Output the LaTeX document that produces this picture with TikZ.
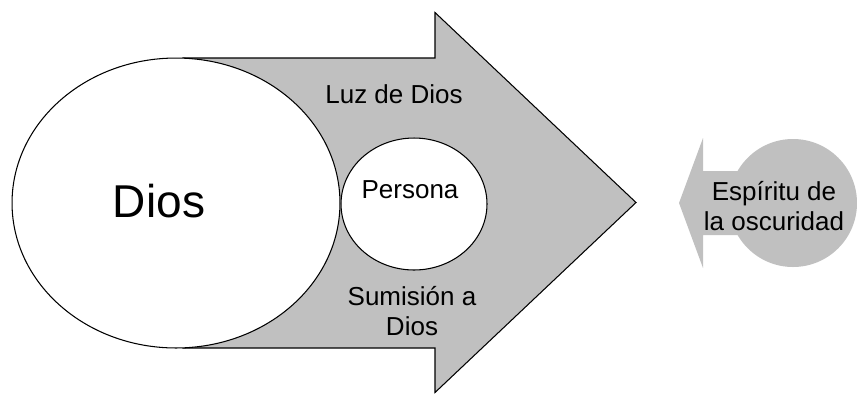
\documentclass[tikz,border=0pt]{standalone}
\usepackage{fontspec}
\setmainfont{Liberation Sans}
\usepackage{xcolor}
\usepackage{tikz}
\usetikzlibrary{calc}
\usetikzlibrary{positioning}
\usetikzlibrary{shapes.geometric}
\definecolor{arrowgray}{RGB}{192,192,192}

\begin{document}
\begin{tikzpicture}[x=0.02cm, y=-0.02cm]

                \def\lw{0.6pt}

                % Styles for the shapes and the texts
                \tikzset{
                    bigarrow/.style={fill=arrowgray, draw=black, line width=\lw, line join=miter},
                    smallarrow/.style={fill=arrowgray, draw=none},
                    oval/.style={ellipse, fill=white, draw=black, line width=\lw, inner sep=0pt},
                    txt/.style={align=center, inner sep=0pt, font=\fontsize{14.8}{16.6}\selectfont},
                    bigtxt/.style={inner sep=0pt, font=\fontsize{26.2}{30}\selectfont}
                }

                \useasboundingbox (0, 0) rectangle (857, 393);

                % The large arrow going to the right
                \draw[bigarrow] (183, 58) -- (435, 58) -- (435, 12.5)
                    -- (636, 202.5) -- (435, 392.5) -- (435, 348)
                    -- (183, 348) -- cycle;

                \begin{scope}
                    \node[oval, minimum width=6.56cm, minimum height=5.8cm]
                        (god) at (176, 203) {};
                    \node[oval, minimum width=2.92cm, minimum height=2.64cm]
                        (person) at (414, 204) {};
                \end{scope}

                % The small arrow coming from the right
                \begin{scope}
                    \fill[smallarrow] (793, 203) circle (64);
                    \fill[smallarrow] (679, 203) -- (703, 138) -- (703, 171)
                        -- (793, 171) -- (793, 235) -- (703, 235)
                        -- (703, 268) -- cycle;
                \end{scope}

                \begin{scope}
                    \node[bigtxt] (godtxt) at (159, 201) {Dios};
                    \node[txt] (persontxt) at (410, 190) {Persona};
                    \node[txt] (light) at (394, 94) {Luz de Dios};
                    \node[txt] (submission) at (412, 311) {Sumisión a\\Dios};
                    \node[txt] (dark) at (774, 206) {Espíritu de\\la oscuridad};
                \end{scope}

\end{tikzpicture}
\end{document}
